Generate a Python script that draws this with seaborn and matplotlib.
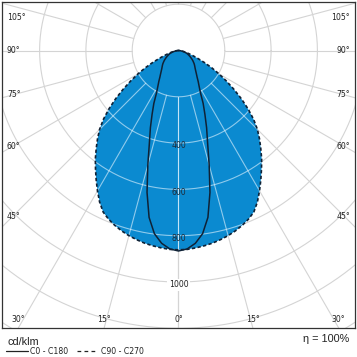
import numpy as np
import pandas as pd
import matplotlib
matplotlib.use("Agg")
import matplotlib.pyplot as plt
from matplotlib.lines import Line2D
import seaborn as sns

# ---- data (cd/klm), gamma angles in degrees ----
gamma = [0, 2.5, 5, 7.5, 10, 12.5, 15, 17.5, 20, 22.5, 25, 27.5, 30, 32.5, 35, 37.5,
         40, 42.5, 45, 47.5, 50, 52.5, 55, 57.5, 60, 62.5, 65, 67.5, 70, 72.5, 75,
         77.5, 80, 82.5, 85, 87.5, 90]
c0_c180 = [866, 858, 836, 798, 732, 628, 512, 418, 355, 298, 252, 205, 178, 158, 140, 127,
           116, 107, 100, 94, 88, 81, 75, 68, 62, 56, 50, 45, 40, 34, 28,
           21, 14, 9, 5, 2, 0]
c90_c270 = [861, 860, 856, 851, 845, 837, 828, 817, 804, 789, 770, 738, 700, 662, 625, 590,
            553, 518, 482, 440, 392, 342, 292, 245, 202, 162, 124, 92, 68, 50, 37,
            27, 18, 11, 6, 3, 0]
ring_values = [200, 400, 600, 800, 1000, 1200, 1400]
ring_labels = ["400", "600", "800", "1000"]
angle_ticks = [0, 15, 30, 45, 60, 75, 90, 105]
legend_labels = ["C0 - C180", "C90 - C270"]
unit_label = "cd/klm"
eta_label = "\u03b7 = 100%"

sns.set_style("white")
plt.rcParams["font.family"] = ["DejaVu Sans"]
narrow = ["Liberation Sans Narrow", "Liberation Sans", "DejaVu Sans"]

W = H = 357
fig = plt.figure(figsize=(W / 100, H / 100), dpi=100)

# axes box in pixels
bx0, bx1, by0, by1 = 2, 355, 2, 328
cx, cy = 178.5, 50.5
k = 0.2315  # px per cd
ax = fig.add_axes([bx0 / W, 1 - by1 / H, (bx1 - bx0) / W, (by1 - by0) / H])
xl, xr = -(cx - bx0) / k, (bx1 - cx) / k
yb, yt = -(by1 - cy) / k, (cy - by0) / k
ax.set_xlim(xl, xr)
ax.set_ylim(yb, yt)
ax.set_aspect("equal")
ax.set_xticks([])
ax.set_yticks([])
for s in ax.spines.values():
    s.set_color("#333333")
    s.set_linewidth(0.9)


def curve(vals):
    g = np.deg2rad(np.array(gamma, dtype=float))
    v = np.array(vals, dtype=float)
    gg = np.concatenate([-g[::-1], g[1:]])
    vv = np.concatenate([v[::-1], v[1:]])
    return pd.DataFrame({"x": vv * np.sin(gg), "y": -vv * np.cos(gg),
                         "order": np.arange(len(gg))})


df0 = curve(c0_c180)
df90 = curve(c90_c270)

grid_gray = "#d4d4d4"


def draw_grid(color, lw, z, clip=None, alpha=1.0):
    t = np.linspace(0, 2 * np.pi, 400)
    arts = []
    for r in ring_values:
        ln, = ax.plot(r * np.cos(t), r * np.sin(t), color=color, lw=lw, zorder=z, alpha=alpha)
        arts.append(ln)
    for a in range(0, 181, 15):
        for sgn in (-1, 1):
            g = np.deg2rad(a) * sgn
            ln, = ax.plot([200 * np.sin(g), 3000 * np.sin(g)],
                          [-200 * np.cos(g), -3000 * np.cos(g)],
                          color=color, lw=lw, zorder=z, alpha=alpha)
            arts.append(ln)
    if clip is not None:
        for a_ in arts:
            a_.set_clip_path(clip)


draw_grid(grid_gray, 0.8, 1)

fill = ax.fill(df90["x"], df90["y"], color="#0b8ad0", zorder=2, lw=0)[0]
draw_grid("#e8f6ff", 0.8, 3, clip=fill, alpha=0.6)

sns.lineplot(data=df90, x="x", y="y", sort=False, estimator=None, ax=ax,
             color="#0f2236", lw=1.2, linestyle=(0, (2.0, 1.4)), zorder=5)
sns.lineplot(data=df0, x="x", y="y", sort=False, estimator=None, ax=ax,
             color="#0f2236", lw=1.1, zorder=6)
ax.set_xlabel("")
ax.set_ylabel("")

fs = 5.6
for lab in ring_labels:
    r = float(lab)
    if r > 900:
        ax.text(0, -r - 12, lab, ha="center", va="center", fontsize=fs, color="#222222",
                zorder=8, bbox=dict(facecolor="white", edgecolor="none", pad=1.2))
    else:
        ax.text(0, -r - 12, lab, ha="center", va="center", fontsize=fs, color="#1e2a38", zorder=8)

# angle labels on the frame
pad = 5 / k
for a in angle_ticks:
    g = np.deg2rad(a)
    if a >= 45:
        xin = 166 / k
        y = -xin / np.tan(g) if a != 90 else 0.0
        y = min(y, yt - 15 / k)
        ax.text(xl + pad, y, f"{a}\u00b0", ha="left", va="center", fontsize=fs, color="#222222", zorder=8)
        ax.text(xr - pad, y, f"{a}\u00b0", ha="right", va="center", fontsize=fs, color="#222222", zorder=8)
    else:
        y = yb + 8 / k
        x = abs(yb) * np.tan(g)
        x = min(x, xr - 14 / k)
        for sgn in ((1,) if a == 0 else (-1, 1)):
            ax.text(sgn * x, y, f"{a}\u00b0", ha="center", va="center", fontsize=fs,
                    color="#222222", zorder=8)

# bottom legend
fig.text(7 / W, 1 - 342 / H, unit_label, fontsize=7.8, color="#222222", ha="left", va="center",
         family=narrow)
fig.text(349 / W, 1 - 339 / H, eta_label, fontsize=7.8, color="#222222", ha="right", va="center",
         family=narrow)
ly = 1 - 351 / H
fig.add_artist(Line2D([6 / W, 28 / W], [ly, ly], color="#222222", lw=0.9))
fig.text(30 / W, ly, legend_labels[0], fontsize=5.6, color="#222222", ha="left", va="center")
fig.add_artist(Line2D([77 / W, 98 / W], [ly, ly], color="#222222", lw=0.9, linestyle=(0, (3.0, 2.6))))
fig.text(101 / W, ly, legend_labels[1], fontsize=5.6, color="#222222", ha="left", va="center")

fig.savefig("out.png", dpi=100)
